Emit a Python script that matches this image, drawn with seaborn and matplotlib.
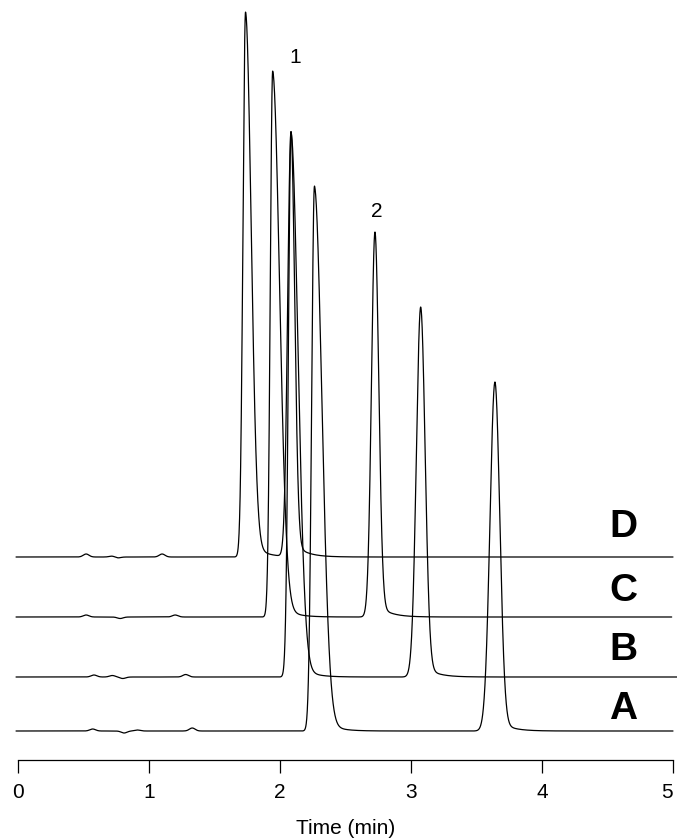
import numpy as np
import pandas as pd
import matplotlib
matplotlib.use("Agg")
import matplotlib.pyplot as plt
import seaborn as sns

# Chromatogram traces, stacked bottom (A) to top (D)
traces = ["A", "B", "C", "D"]
baseline_offset = [29, 83, 143, 203]

# Peak 1 and peak 2 per trace: retention time (min) and height (signal units)
peak1_time = [2.263, 2.084, 1.944, 1.737]
peak1_height = [545, 545, 546, 545]
peak2_time = [3.641, 3.074, 2.725, 2.084]
peak2_height = [349, 370, 385, 425]

# Peak widths (min): leading edge and trailing edge
peak1_sigma_lead = [0.0214, 0.0198, 0.0183, 0.0198]
peak1_sigma_trail = [0.057, 0.053, 0.053, 0.043]
peak2_sigma_lead = [0.038, 0.033, 0.027, 0.025]
peak2_sigma_trail = [0.037, 0.034, 0.029, 0.028]

# Small baseline disturbances near injection (time, amplitude)
bump_times = {
    "A": [0.57, 0.81, 0.91, 1.33],
    "B": [0.58, 0.72, 0.80, 1.28],
    "C": [0.52, 0.78, 1.20],
    "D": [0.52, 0.72, 0.76, 1.10],
}
bump_amps = {
    "A": [2.0, -2.0, 1.0, 3.0],
    "B": [2.0, 1.5, -1.5, 2.5],
    "C": [2.0, -1.5, 2.0],
    "D": [3.0, 1.0, -1.0, 3.0],
}

# Where each trace's record ends (min)
trace_end = [5.0, 5.03, 4.99, 5.0]
label_y = [41, 100, 159, 223]
tick_values = [0, 1, 2, 3, 4, 5]


def tailed_peak(t, t0, h, s_lead, s_trail, w=0.04, tau=0.09):
    dt = t - t0
    lead = np.exp(-0.5 * (dt / s_lead) ** 2)
    dtp = np.clip(dt, 0, None)
    trail = (1 - w) * np.exp(-0.5 * (dtp / s_trail) ** 2) + w * np.exp(-dtp / tau)
    return h * np.where(dt < 0, lead, trail)


sns.set_theme(style="white")
plt.rcParams["font.family"] = ["Liberation Sans", "DejaVu Sans"]
plt.rcParams["text.color"] = "black"

fig = plt.figure(figsize=(6.77, 8.38), dpi=100)
ax = fig.add_axes([18 / 677, 78 / 838, 655 / 677, 760 / 838])

frames = []
for i, name in enumerate(traces):
    t = np.linspace(-0.015, trace_end[i], 5000)
    y = np.full_like(t, float(baseline_offset[i]))
    y += tailed_peak(t, peak1_time[i], peak1_height[i],
                     peak1_sigma_lead[i], peak1_sigma_trail[i])
    y += tailed_peak(t, peak2_time[i], peak2_height[i],
                     peak2_sigma_lead[i], peak2_sigma_trail[i])
    for bt, ba in zip(bump_times[name], bump_amps[name]):
        y += ba * np.exp(-0.5 * ((t - bt) / 0.022) ** 2)
    frames.append(pd.DataFrame({"time": t, "signal": y, "trace": name}))

data = pd.concat(frames, ignore_index=True)

sns.lineplot(data=data, x="time", y="signal", hue="trace",
             palette={n: "#000000" for n in traces}, estimator=None,
             sort=False, linewidth=0.9, legend=False, ax=ax, clip_on=False)

for i, name in enumerate(traces):
    ax.text(4.62, label_y[i], name, ha="center", va="baseline",
            fontsize=28, fontweight="bold", color="black")

# Peak identifiers
ax.text(2.115, 697, "1", ha="center", va="baseline", fontsize=15,
        color="black")
ax.text(2.74, 543, "2", ha="center", va="baseline", fontsize=15,
        color="black")

ax.set_xlim(0, 5)
ax.set_ylim(0, 760)
ax.set_xticks(tick_values)
ax.set_xticklabels([str(v) for v in tick_values])
ax.set_yticks([])
ax.set_xlabel("")
ax.set_ylabel("")
for side in ["left", "top", "right"]:
    ax.spines[side].set_visible(False)
ax.spines["bottom"].set_color("black")
ax.spines["bottom"].set_linewidth(0.9)
ax.tick_params(axis="x", direction="out", length=9.5, width=0.9,
               color="black", pad=7, labelsize=15, labelcolor="black",
               bottom=True)
# keep the last tick label inside the figure edge
ax.get_xticklabels()[-1].set_horizontalalignment("right")
ax.patch.set_alpha(0)

fig.text(345.5 / 677, 10 / 838, "Time (min)", ha="center", va="center",
         fontsize=15, color="black")

fig.savefig("out.png", dpi=100)
